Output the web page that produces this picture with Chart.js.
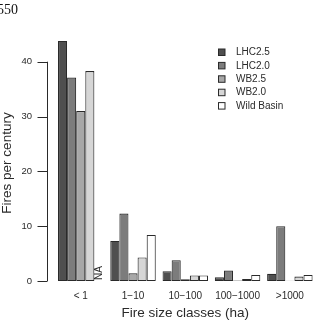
<!DOCTYPE html>
<html>
<head>
<meta charset="utf-8">
<script src="https://cdn.jsdelivr.net/npm/chart.js@4"></script>
<style>
  html, body { margin: 0; padding: 0; background: #fff; }
  canvas { display: block; }
</style>
</head>
<body>
<canvas id="myChart" width="316" height="324"></canvas>
<script>
const categories = ['< 1', '1\u221210', '10\u2212100', '100\u22121000', '>1000']
const seriesNames = ['LHC2.5', 'LHC2.0', 'WB2.5', 'WB2.0', 'Wild Basin']
const lhc25 = [43.8, 7.3, 1.8, 0.7, 1.3]
const lhc20 = [37.1, 12.3, 3.8, 1.9, 10.0]
const wb25 = [31.0, 1.4, 0.3, 0.1, 0.05]
const wb20 = [38.3, 4.3, 1.0, 0.35, 0.8]
const wildBasin = [null, 8.4, 1.0, 1.1, 1.1]
const yTicks = [0, 10, 20, 30, 40]

const fills = ['#4f4f4f', '#7c7c7c', '#a7a7a7', '#d6d6d6', '#ffffff']
const ink = '#2a2a2a'
const sans = '"Liberation Sans", Arial, sans-serif'

const allSeries = [lhc25, lhc20, wb25, wb20, wildBasin]

// axis line, legend, titles and the NA label, R style
const extras = {
    id: 'extras',
    afterDraw(chart) {
        const ctx = chart.ctx
        const y = chart.scales.y
        const area = chart.chartArea
        ctx.save()
        ctx.strokeStyle = ink
        ctx.lineWidth = 1
        const ax = 47.5
        ctx.beginPath()
        ctx.moveTo(ax, y.getPixelForValue(yTicks[0]))
        ctx.lineTo(ax, y.getPixelForValue(yTicks[yTicks.length - 1]))
        yTicks.forEach(v => {
            const py = Math.round(y.getPixelForValue(v)) + 0.5
            ctx.moveTo(ax - 10, py)
            ctx.lineTo(ax, py)
        })
        ctx.stroke()

        // legend
        ctx.font = '10px ' + sans
        ctx.textAlign = 'left'
        ctx.textBaseline = 'middle'
        chart.data.datasets.forEach((ds, i) => {
            const ry = 52.5 + i * 13.4
            ctx.fillStyle = ds.backgroundColor
            ctx.fillRect(218.5, ry - 3.5, 6.5, 6.5)
            ctx.strokeRect(218.5, ry - 3.5, 6.5, 6.5)
            ctx.fillStyle = ink
            ctx.fillText(ds.label, 236, ry)
        })

        // NA marker for the missing bar
        const el = chart.getDatasetMeta(3).data[0]
        ctx.save()
        ctx.translate(el.x + el.width, y.getPixelForValue(0) - 1)
        ctx.rotate(-Math.PI / 2)
        ctx.font = '10px ' + sans
        ctx.fillText('NA', 0, 0)
        ctx.restore()

        // axis titles
        ctx.font = '13.5px ' + sans
        ctx.textAlign = 'center'
        ctx.fillText('Fire size classes (ha)', (area.left + area.right) / 2, 313)
        ctx.save()
        ctx.translate(7, 163)
        ctx.rotate(-Math.PI / 2)
        ctx.fillText('Fires per century', 0, 0)
        ctx.restore()

        // page number
        ctx.font = '14px "Liberation Serif", serif'
        ctx.textAlign = 'left'
        ctx.fillStyle = '#111'
        ctx.fillText('550', -3, 10)
        ctx.restore()
    }
}

const ctx = document.getElementById('myChart').getContext('2d')
const myChart = new Chart(ctx, {
    type: 'bar',
    data: {
        labels: categories,
        datasets: allSeries.map((values, i) => ({
            label: seriesNames[i],
            data: values,
            backgroundColor: fills[i],
            borderColor: ink,
            borderWidth: 1.1,
            borderSkipped: false,
            categoryPercentage: 0.87,
            barPercentage: 1.0,
        }))
    },
    options: {
        responsive: false,
        animation: false,
        layout: { padding: { top: 34.3, right: 0, left: 0, bottom: 0 } },
        plugins: {
            legend: { display: false },
            tooltip: { enabled: false },
        },
        scales: {
            x: {
                grid: { display: false, drawTicks: false },
                border: { display: false },
                ticks: { color: ink, font: { family: sans, size: 10 }, padding: 9, maxRotation: 0, autoSkip: false },
                afterFit(scale) { scale.height = 43 },
            },
            y: {
                min: 0,
                max: 45,
                grid: { display: false, drawTicks: false },
                border: { display: false },
                ticks: { color: ink, font: { family: sans, size: 9.5 }, padding: 22.6 },
                afterBuildTicks(scale) { scale.ticks = yTicks.map(v => ({ value: v })) },
                afterFit(scale) { scale.width = 54.6 },
            },
        },
    },
    plugins: [extras],
})
</script>
</body>
</html>
